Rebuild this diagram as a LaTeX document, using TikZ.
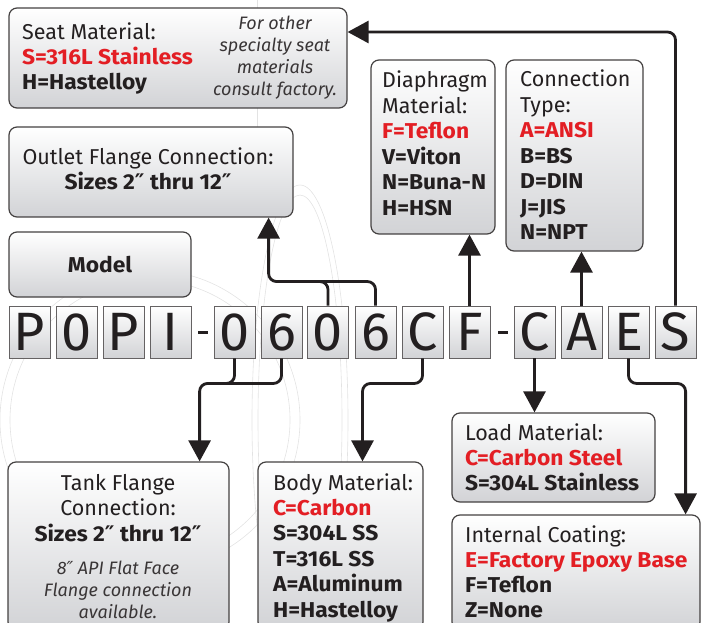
\documentclass[tikz,border=0pt]{standalone}
\usepackage{fontspec}
\setmainfont{Fira Sans}[BoldFeatures={FakeStretch=1.06}]
\newfontfamily\primefont{DejaVu Sans}
\newcommand\inchmark{{\primefont ″}}
\usetikzlibrary{arrows.meta,positioning}
\definecolor{selred}{RGB}{227,30,36}
\definecolor{inkgray}{RGB}{35,31,32}
\definecolor{shadegray}{RGB}{210,211,214}
\tikzset{
  infobox/.style={draw=inkgray!85, line width=1.2pt, rounded corners=8pt, top color=white, bottom color=shadegray, inner sep=0pt},
  charbox/.style={draw=inkgray!70, line width=0.9pt, top color=white, bottom color=shadegray, minimum width=41pt, minimum height=52pt, inner sep=0pt, font=\fontsize{54}{54}\selectfont, text=inkgray},
  head/.style={font=\fontsize{21.5}{25}\selectfont, text=inkgray, inner sep=0pt},
  pick/.style={font=\fontsize{21.5}{25}\selectfont\bfseries, text=inkgray, inner sep=0pt},
  note/.style={font=\fontsize{18}{22}\selectfont\itshape, text=inkgray!90, inner sep=0pt},
  link/.style={line width=2.8pt, draw=inkgray, rounded corners=8pt},
  linkarrow/.style={link, -{Triangle[width=22pt,length=21pt]}},
  dashbar/.style={fill=inkgray, minimum width=10pt, minimum height=3pt, inner sep=0pt},
  wm/.style={draw=gray!22, line width=0.6pt},
}
\begin{document}
\begin{tikzpicture}[x=1pt,y=-1pt]
    \useasboundingbox (0,0) rectangle (705,623);
    \clip (0,0) rectangle (705,623);
    % faint flange drawing behind
    \draw[wm] (300,420) ellipse [x radius=48, y radius=235];
    \draw[wm] (300,420) ellipse [x radius=42, y radius=225];
    \draw[wm] (150,420) circle [radius=150];
    \draw[wm] (150,420) circle [radius=140];
    \draw[wm] (257,-20) -- (257,150);

    % boxes
    \node[infobox, minimum width=338pt, minimum height=100pt] (seat) at (178,58) {};
    \node[infobox, minimum width=284pt, minimum height=90pt] (outlet) at (151,172) {};
    \node[infobox, minimum width=182pt, minimum height=65pt, pick] (model) at (100,264.5) {Model};
    \node[infobox, minimum width=124pt, minimum height=174pt] (diaph) at (433,147) {};
    \node[infobox, minimum width=137pt, minimum height=191pt] (conntype) at (574.5,155.5) {};
    \node[infobox, minimum width=221pt, minimum height=168pt] (tank) at (118.5,546) {};
    \node[infobox, minimum width=165pt, minimum height=168pt] (body) at (340.5,546) {};
    \node[infobox, minimum width=203pt, minimum height=89pt] (load) at (553.5,457.5) {};
    \node[infobox, minimum width=248pt, minimum height=115pt] (coat) at (576,572.5) {};

    % seat
    \node[head, anchor=base west] (seatA) at (22,40) {Seat Material:};
    \node[pick, anchor=base west, text=selred] (seatB) at (22,65) {S=316L Stainless};
    \node[pick, anchor=base west] (seatC) at (22,90) {H=Hastelloy};
    \node[note, anchor=base] (seatN1) at (275,30) {For other};
    \node[note, anchor=base] (seatN2) at (275,52) {specialty seat};
    \node[note, anchor=base] (seatN3) at (275,74) {materials};
    \node[note, anchor=base] (seatN4) at (275,96) {consult factory.};

    % outlet
    \node[head, anchor=base] (outletA) at (148,165) {Outlet Flange Connection:};
    \node[pick, anchor=base] (outletB) at (148,190) {Sizes 2\inchmark{} thru 12\inchmark};

    % diaphragm
    \node[head, anchor=base west] (diaphA) at (382,88) {Diaphragm};
    \node[head, anchor=base west] (diaphB) at (382,113.5) {Material:};
    \foreach \txt [count=\i] in {\textcolor{selred}{F=Teflon}, V=Viton, N=Buna-N, H=HSN}
        \node[pick, anchor=base west] (diaphC\i) at (382,113.5+25.5*\i) {\txt};

    % connection type
    \node[head, anchor=base west] (connA) at (520,87) {Connection};
    \node[head, anchor=base west] (connB) at (520,112.5) {Type:};
    \foreach \txt [count=\i] in {\textcolor{selred}{A=ANSI}, B=BS, D=DIN, J=JIS, N=NPT}
        \node[pick, anchor=base west] (connC\i) at (520,112.5+25.5*\i) {\txt};

    % tank
    \node[head, anchor=base] (tankA) at (118,490) {Tank Flange};
    \node[head, anchor=base] (tankB) at (118,515.5) {Connection:};
    \node[pick, anchor=base] (tankC) at (118,541.5) {Sizes 2\inchmark{} thru 12\inchmark};
    \node[note, anchor=base] (tankN1) at (118,574) {8\inchmark{} API Flat Face};
    \node[note, anchor=base] (tankN2) at (118,596) {Flange connection};
    \node[note, anchor=base] (tankN3) at (118,618) {available.};

    % body
    \node[head, anchor=base west] (bodyA) at (273,490) {Body Material:};
    \foreach \txt [count=\i] in {\textcolor{selred}{C=Carbon}, S=304L SS, T=316L SS, A=Aluminum, H=Hastelloy}
        \node[pick, anchor=base west] (bodyB\i) at (273,490+25.4*\i) {\txt};

    % load
    \node[head, anchor=base west] (loadA) at (465,440) {Load Material:};
    \node[pick, anchor=base west, text=selred] (loadB) at (465,465) {C=Carbon Steel};
    \node[pick, anchor=base west] (loadC) at (465,490) {S=304L Stainless};

    % coating
    \node[head, anchor=base west] (coatA) at (465,542) {Internal Coating:};
    \foreach \txt [count=\i] in {\textcolor{selred}{E=Factory Epoxy Base}, F=Teflon, Z=None}
        \node[pick, anchor=base west] (coatB\i) at (465,542+25*\i) {\txt};

    % model code
    \foreach \ch/\xx [count=\i] in {P/29.5, 0/76.5, P/123.5, I/170.5, 0/234.5, 6/281.5, 0/328, 6/375.5, C/422.5, F/469.5, C/534.5, A/581.5, E/628.5, S/675.5}
        \node[charbox] (c\i) at (\xx,332) {\ch};
    \node[dashbar] (dashA) at (202.5,332) {};
    \node[dashbar] (dashB) at (502.5,332) {};

    % up
    \draw[linkarrow] (c8.north) -- ++(0,-24) -| ([xshift=-25pt]outlet.south east);
    \draw[link] (c7.north) |- ++(-20,-24);
    \draw[linkarrow] (c10.north) -- (c10.north |- diaph.south);
    \draw[linkarrow] (c12.north) -- (c12.north |- conntype.south);
    \draw[linkarrow] (c14.north) |- ([yshift=26pt]seat.east);
    % down
    \draw[linkarrow] (c6.south) -- ++(0,25) -| ([xshift=-30pt]tank.north east);
    \draw[link] (c5.south) |- ++(-20,25);
    \draw[linkarrow] (c9.south) -- ++(0,25) -| ([xshift=22pt]body.north);
    \draw[linkarrow] (c11.south) -- (c11.south |- load.north);
    \draw[linkarrow] (c13.south) -- ++(0,25) -| ([xshift=-15pt]coat.north east);
\end{tikzpicture}
\end{document}
